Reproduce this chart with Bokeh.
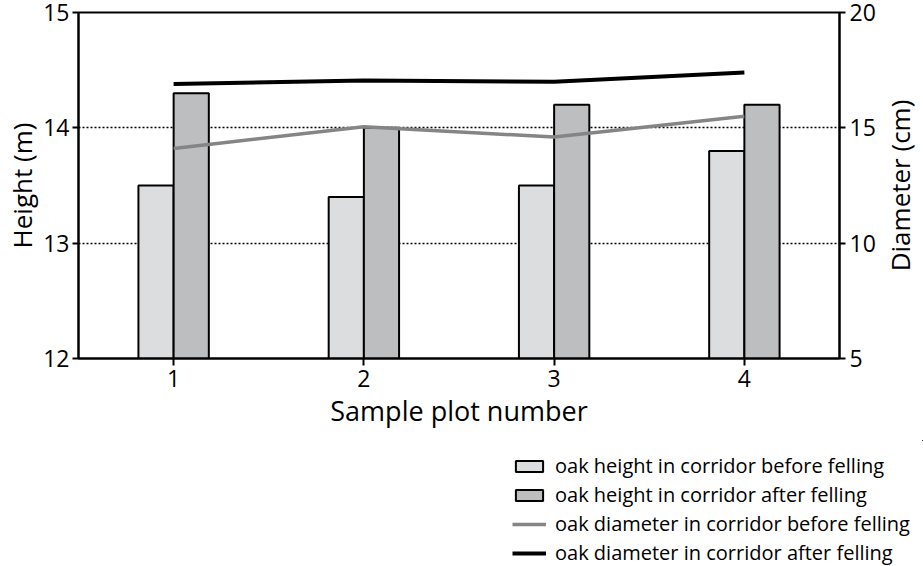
from bokeh.plotting import figure
from bokeh.layouts import row
from bokeh.models import Range1d, LinearAxis, Legend, LegendItem, FixedTicker, ColumnDataSource
from bokeh.transform import dodge
from bokeh.embed import file_html
from bokeh.resources import INLINE

# ---- data ----
plots = [1, 2, 3, 4]
height_before = [13.5, 13.4, 13.5, 13.8]
height_after = [14.3, 14.0, 14.2, 14.2]
diam_before = [14.1, 15.05, 14.6, 15.5]
diam_after = [16.9, 17.05, 17.0, 17.4]
height_ticks = [12, 13, 14, 15]
diam_ticks = [5, 10, 15, 20]
labels = [
    "oak height in corridor before felling",
    "oak height in corridor after felling",
    "oak diameter in corridor before felling",
    "oak diameter in corridor after felling",
]

FONT = "Open Sans"
C_BEFORE_BAR = "#dcdddf"
C_AFTER_BAR = "#bdbec0"
C_BEFORE_LINE = "#858585"
C_AFTER_LINE = "black"
BW = 0.185

src = ColumnDataSource(dict(plot=plots, hb=height_before, ha=height_after,
                            db=diam_before, da=diam_after))


def add_series(fig):
    r1 = fig.vbar(x=dodge("plot", -BW / 2), top="hb", bottom=12, width=BW, source=src,
                  fill_color=C_BEFORE_BAR, line_color="black", line_width=2)
    r2 = fig.vbar(x=dodge("plot", BW / 2), top="ha", bottom=12, width=BW, source=src,
                  fill_color=C_AFTER_BAR, line_color="black", line_width=2)
    r3 = fig.line("plot", "db", source=src, y_range_name="diam",
                  line_color=C_BEFORE_LINE, line_width=3.5)
    r4 = fig.line("plot", "da", source=src, y_range_name="diam",
                  line_color=C_AFTER_LINE, line_width=4)
    return r1, r2, r3, r4


SIDE_W = 45
p = figure(width=923 - SIDE_W, height=440, x_range=Range1d(0.5, 4.5), y_range=Range1d(12, 15),
           output_backend="svg", toolbar_location=None,
           min_border_left=78, min_border_right=923 - SIDE_W - 840,
           min_border_top=12, min_border_bottom=82)
p.extra_y_ranges = {"diam": Range1d(5, 20)}
p.outline_line_color = "black"
p.outline_line_width = 2
add_series(p)

# grid
p.xgrid.visible = False
p.ygrid.ticker = FixedTicker(ticks=[13, 14])
p.ygrid.grid_line_color = "black"
p.ygrid.grid_line_dash = "2 2"
p.ygrid.grid_line_width = 1.5


def style_axis(ax, label_size="27px"):
    ax.axis_line_color = "black"
    ax.axis_line_width = 2
    ax.major_tick_line_color = "black"
    ax.major_tick_line_width = 2
    ax.major_tick_out = 6
    ax.major_tick_in = 0
    ax.minor_tick_line_color = None
    ax.major_label_text_font = FONT
    ax.major_label_text_font_size = "23px"
    ax.major_label_text_color = "black"
    ax.axis_label_text_font = FONT
    ax.axis_label_text_font_size = label_size
    ax.axis_label_text_font_style = "normal"
    ax.axis_label_text_color = "black"


# x axis
xa = p.xaxis[0]
xa.ticker = FixedTicker(ticks=plots)
xa.axis_label = "Sample plot number"
style_axis(xa)
xa.major_tick_out = 7
xa.major_label_standoff = 4
xa.axis_label_standoff = 2

# left axis
ya = p.yaxis[0]
ya.ticker = FixedTicker(ticks=height_ticks)
ya.axis_label = "Height (m)"
style_axis(ya, "26px")
ya.major_label_standoff = 3
ya.axis_label_standoff = 0

# right axis (ticks and numbers; its title sits in the strip to the right)
ra_ax = LinearAxis(y_range_name="diam", ticker=FixedTicker(ticks=diam_ticks))
style_axis(ra_ax, "26px")
ra_ax.major_label_standoff = 4
p.add_layout(ra_ax, "right")

# ---- narrow strip carrying the right-hand axis title, reading upward ----
side = figure(width=SIDE_W, height=440, x_range=Range1d(0, 1), y_range=Range1d(5, 20),
              output_backend="svg", toolbar_location=None, x_axis_location=None,
              min_border_left=0, min_border_right=0, min_border_top=12, min_border_bottom=82)
side.outline_line_color = None
side.xgrid.visible = False
side.ygrid.visible = False
sa = side.yaxis[0]
sa.ticker = FixedTicker(ticks=[])
sa.axis_label = "Diameter (cm)"
style_axis(sa, "26px")
sa.axis_line_color = None
sa.major_tick_out = 0
sa.axis_label_standoff = 0

# ---- legend strip below the chart (its series lie outside its view) ----
lf = figure(width=923, height=126, x_range=Range1d(-2, -1), y_range=Range1d(0, 1),
            output_backend="svg", toolbar_location=None,
            x_axis_location=None, y_axis_location=None,
            min_border_left=0, min_border_right=0, min_border_top=0, min_border_bottom=0)
lf.extra_y_ranges = {"diam": Range1d(0, 1)}
lf.outline_line_color = None
lf.xgrid.visible = False
lf.ygrid.visible = False
g1, g2, g3, g4 = add_series(lf)

legend = Legend(items=[LegendItem(label=labels[0], renderers=[g1]),
                       LegendItem(label=labels[1], renderers=[g2]),
                       LegendItem(label=labels[2], renderers=[g3]),
                       LegendItem(label=labels[3], renderers=[g4])],
                location=(512, 0), orientation="vertical",
                glyph_width=34, glyph_height=14, label_standoff=9, spacing=2,
                padding=0, margin=0, border_line_alpha=0, background_fill_alpha=0,
                label_text_font=FONT, label_text_font_size="20px", label_text_color="black")
lf.add_layout(legend)

top = row(p, side, spacing=0)
open("out.html", "w").write(file_html([top, lf], INLINE))
